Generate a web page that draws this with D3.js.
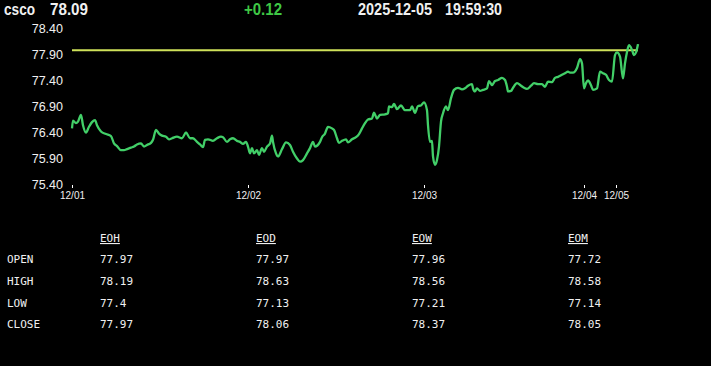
<html>
<head>
<script src="https://cdnjs.cloudflare.com/ajax/libs/d3/7.8.5/d3.min.js"></script>
<style>
body {margin: 0; background: #000; overflow: hidden;}
text {fill: #f0f0f0;}
</style>
</head>
<body>
<svg id="chart" width="711" height="366"></svg>
<script>
// header
var symbol = "csco";
var lastPrice = "78.09";
var change = "+0.12";
var quoteDate = "2025-12-05";
var quoteTime = "19:59:30";
var prevClose = 77.97;

// y ticks
var yTicks = [75.40, 75.90, 76.40, 76.90, 77.40, 77.90, 78.40];

// day ticks (sample position)
var dayLabels = ["12/01", "12/02", "12/03", "12/04", "12/05"];
var dayPos = [0, 176, 352, 512, 544];

// sample positions and prices
var samplePos = [0,1,4,6,9,11,14,17,20,23,25,29,34,39,42,45,49,52,55,59,62,65,69,72,75,79,81,84,87,90,94,97,100,105,110,114,118,121,125,128,131,133,136,141,145,149,151,155,158,161,165,168,171,174,176,178,180,182,185,187,190,192,195,198,200,201,204,206,210,214,218,221,225,228,231,235,238,241,243,248,250,253,256,260,262,265,267,270,274,276,280,284,287,290,293,296,300,302,305,308,313,316,317,320,322,325,329,333,338,340,343,346,349,352,355,356,358,360,361,363,365,367,369,371,374,376,379,382,386,390,393,396,400,401,403,405,408,411,415,417,420,423,426,430,433,435,436,439,441,445,449,452,455,459,462,466,470,473,476,480,483,486,490,493,496,498,501,505,508,510,512,514,516,519,521,525,528,531,534,537,540,543,545,548,551,553,555,557,560,562,564,566];
var prices = [76.47,76.62,76.57,76.60,76.73,76.53,76.39,76.50,76.59,76.63,76.53,76.41,76.36,76.32,76.18,76.13,76.05,76.05,76.07,76.10,76.12,76.16,76.18,76.12,76.15,76.19,76.25,76.44,76.37,76.33,76.31,76.26,76.28,76.31,76.28,76.39,76.28,76.28,76.21,76.16,76.11,76.25,76.26,76.23,76.28,76.31,76.30,76.21,76.26,76.28,76.23,76.21,76.17,76.21,76.12,75.99,76.09,75.99,76.05,75.96,76.09,76.02,76.12,76.18,76.33,76.21,75.99,75.93,76.07,76.20,76.15,76.02,75.89,75.83,75.86,75.99,76.09,76.21,76.12,76.21,76.30,76.37,76.50,76.47,76.44,76.28,76.19,76.23,76.26,76.20,76.26,76.30,76.36,76.47,76.57,76.64,76.66,76.77,76.66,76.73,76.74,76.76,76.89,76.88,76.94,76.84,76.91,76.82,76.82,76.89,76.77,76.90,76.91,76.97,76.82,76.53,76.21,76.23,75.93,75.77,75.86,76.12,76.60,76.76,76.89,76.82,77.05,77.21,77.25,77.22,77.24,77.29,77.32,77.24,77.18,77.24,77.19,77.21,77.24,77.38,77.30,77.38,77.40,77.44,77.40,77.27,77.18,77.19,77.25,77.34,77.29,77.25,77.23,77.29,77.34,77.32,77.32,77.27,77.37,77.36,77.44,77.46,77.50,77.53,77.56,77.54,77.54,77.63,77.80,77.72,77.24,77.34,77.39,77.30,77.21,77.24,77.56,77.53,77.50,77.40,77.37,77.88,77.93,77.85,77.43,77.72,77.94,78.07,77.98,77.88,77.93,78.09];

// table
var periods = ["EOH", "EOD", "EOW", "EOM"];
var rowNames = ["OPEN", "HIGH", "LOW", "CLOSE"];
var openVals = ["77.97", "77.97", "77.96", "77.72"];
var highVals = ["78.19", "78.63", "78.56", "78.58"];
var lowVals = ["77.4", "77.13", "77.21", "77.14"];
var closeVals = ["77.97", "78.06", "78.37", "78.05"];

var svg = d3.select("#chart");

//Header (narrow bold face, squeezed to the widths in the picture)
var hdr = svg.append("g").style("font-family", "Liberation Sans, Arial, sans-serif")
  .style("font-size", "16px").style("font-weight", "bold");
function hText(x0, w, txt, col) {
  hdr.append("text").attr("x", x0).attr("y", 15)
    .attr("textLength", w).attr("lengthAdjust", "spacingAndGlyphs")
    .style("fill", col || "#f0f0f0").text(txt);
}
hText(4, 31, symbol);
hText(50, 38, lastPrice);
hText(244, 38, change, "#3fc845");
hText(358, 74, quoteDate);
hText(445, 57, quoteTime);

//Scales
var x = d3.scaleLinear().domain([0, 566]).range([72, 638]);
var y = d3.scaleLinear().domain([75.4, 78.4]).range([184, 28]);

//Y labels
svg.append("g")
  .attr("transform", "translate(63,0)")
  .call(d3.axisLeft(y).tickValues(yTicks).tickSize(0).tickPadding(0).tickFormat(d3.format(".2f")))
  .call(function(g) { g.select(".domain").remove(); })
  .selectAll("text")
  .style("font-family", "Liberation Sans, Arial, sans-serif")
  .style("font-size", "12.5px")
  .style("fill", "#f0f0f0");

//X axis
svg.append("g")
  .attr("transform", "translate(0,185)")
  .call(d3.axisBottom(x).tickValues(dayPos).tickSize(3).tickPadding(4)
    .tickFormat(function(d, i) { return dayLabels[i]; }))
  .call(function(g) { g.select(".domain").remove(); })
  .call(function(g) { g.selectAll("line").attr("stroke", "#fff"); })
  .selectAll("text")
  .style("font-family", "Liberation Sans, Arial, sans-serif")
  .style("font-size", "10px")
  .style("fill", "#f0f0f0");

//Previous close line
svg.append("line")
  .attr("x1", x(0)).attr("x2", x(566))
  .attr("y1", y(prevClose)).attr("y2", y(prevClose))
  .attr("stroke", "#cfe25a").attr("stroke-width", 2);

//Price line
var line = d3.line()
  .x(function(d, i) { return x(samplePos[i]); })
  .y(function(d) { return y(d); })
  .curve(d3.curveMonotoneX);

svg.append("path")
  .datum(prices)
  .attr("d", line)
  .attr("fill", "none")
  .attr("stroke", "#42cf68")
  .attr("stroke-width", 2.3);

//Table
var colX = [100, 256, 412, 568];
var rowY = [263, 285, 307, 328];
var rows = [openVals, highVals, lowVals, closeVals];
var tbl = svg.append("g").style("font-family", "DejaVu Sans Mono, monospace").style("font-size", "11px");

tbl.selectAll(".hd").data(periods).enter().append("text")
  .attr("x", function(d, i) { return colX[i]; })
  .attr("y", 242)
  .style("text-decoration", "underline")
  .text(function(d) { return d; });

tbl.selectAll(".rn").data(rowNames).enter().append("text")
  .attr("x", 7)
  .attr("y", function(d, i) { return rowY[i]; })
  .text(function(d) { return d; });

rows.forEach(function(r, ri) {
  tbl.selectAll(".v" + ri).data(r).enter().append("text")
    .attr("x", function(d, i) { return colX[i]; })
    .attr("y", rowY[ri])
    .text(function(d) { return d; });
});
</script>
</body>
</html>
